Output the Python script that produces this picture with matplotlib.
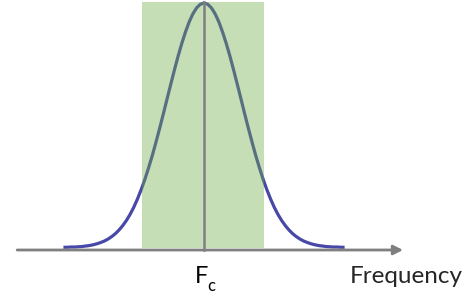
import matplotlib.pyplot as plt
from matplotlib.patches import Rectangle

# frequency offset from the carrier, in units of the curve width
freq = [-3.8, -3.7, -3.6, -3.5, -3.4, -3.3, -3.2, -3.1, -3.0, -2.9,
        -2.8, -2.7, -2.6, -2.5, -2.4, -2.3, -2.2, -2.1, -2.0, -1.9,
        -1.8, -1.7, -1.6, -1.5, -1.4, -1.3, -1.2, -1.1, -1.0, -0.9,
        -0.8, -0.7, -0.6, -0.5, -0.4, -0.3, -0.2, -0.1, 0.0,
        0.1, 0.2, 0.3, 0.4, 0.5, 0.6, 0.7, 0.8, 0.9, 1.0,
        1.1, 1.2, 1.3, 1.4, 1.5, 1.6, 1.7, 1.8, 1.9, 2.0,
        2.1, 2.2, 2.3, 2.4, 2.5, 2.6, 2.7, 2.8, 2.9, 3.0,
        3.1, 3.2, 3.3, 3.4, 3.5, 3.6, 3.7, 3.8]
level = [0.001, 0.001, 0.002, 0.002, 0.003, 0.004, 0.006, 0.008, 0.011, 0.015,
         0.020, 0.026, 0.034, 0.044, 0.056, 0.071, 0.089, 0.110, 0.135, 0.164,
         0.198, 0.236, 0.278, 0.325, 0.375, 0.430, 0.487, 0.546, 0.607, 0.667,
         0.726, 0.783, 0.835, 0.882, 0.923, 0.956, 0.980, 0.995, 1.000,
         0.995, 0.980, 0.956, 0.923, 0.882, 0.835, 0.783, 0.726, 0.667, 0.607,
         0.546, 0.487, 0.430, 0.375, 0.325, 0.278, 0.236, 0.198, 0.164, 0.135,
         0.110, 0.089, 0.071, 0.056, 0.044, 0.034, 0.026, 0.020, 0.015, 0.011,
         0.008, 0.006, 0.004, 0.003, 0.002, 0.002, 0.001, 0.001]
band = (-1.68, 1.62)
carrier = 0.0
axis_span = (-5.05, 5.38)
label_carrier = "F"
label_sub = "c"
label_axis = "Frequency"

fig = plt.figure(figsize=(4.74, 3.0), dpi=100)
ax = fig.add_axes([0, 0, 1, 1])
ax.set_xlim(-5.514, 7.297)
ax.set_ylim(-0.2147, 1.0123)
ax.axis('off')

ax.plot(freq, level, color='#4848a8', lw=2.3, solid_capstyle='butt',
        solid_joinstyle='round', zorder=2)
ax.add_patch(Rectangle((band[0], -0.002), band[1] - band[0], 1.006,
                       facecolor='#70ad47', alpha=0.4, lw=0, zorder=3))
ax.plot([carrier, carrier], [-0.01, 1.004], color='#7f7f7f', lw=1.8, zorder=4)
ax.annotate('', xy=(axis_span[1], -0.0102), xytext=(axis_span[0], -0.0102),
            arrowprops=dict(arrowstyle='-|>', color='#7f7f7f', lw=2.0,
                            mutation_scale=14, shrinkA=0, shrinkB=0), zorder=5)

ax.text(-0.25, -0.145, label_carrier, fontsize=17, family='Lato',
        ha='left', va='baseline', color='black')
ax.text(0.08, -0.178, label_sub, fontsize=12, family='Lato',
        ha='left', va='baseline', color='black')
ax.text(3.95, -0.145, label_axis, fontsize=17.5, family='Lato',
        ha='left', va='baseline', color='#262626')

fig.savefig('out.png', dpi=100)
